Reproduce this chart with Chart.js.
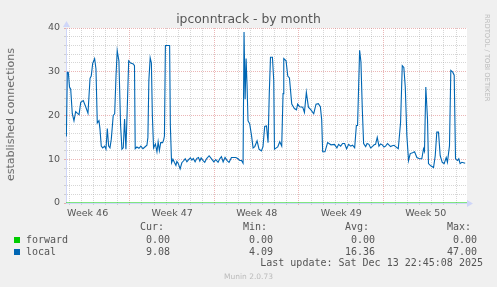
<!DOCTYPE html>
<html>
<head>
<meta charset="utf-8">
<script src="https://cdn.jsdelivr.net/npm/chart.js@4"></script>
<style>
  body { margin: 0; background: #f0f0f0; }
  #wrap { position: relative; width: 497px; height: 287px; overflow: hidden; font-family: 'DejaVu Sans'; color: #555; }
  #wrap div { position: absolute; white-space: nowrap; line-height: 1; }
  #wrap .mono { font: 10px 'DejaVu Sans Mono'; line-height: 10px; }
  canvas { position: absolute; left: 0; top: 0; }
</style>
</head>
<body>
<div id="wrap">
  <canvas id="myChart" width="497" height="287"></canvas>
  <div id="title" style="left:0;width:497px;text-align:center;top:13px;font-size:12.4px;color:#555;">ipconntrack - by month</div>
  <div id="ytitle" style="left:5px;top:48px;height:134px;text-align:center;font-size:11px;color:#666;writing-mode:vertical-rl;transform:rotate(180deg);">established connections</div>
  <div id="brand" style="left:483px;top:14px;font-size:6.8px;color:#bbb;writing-mode:vertical-rl;">RRDTOOL / TOBI OETIKER</div>
  <div id="legend" style="left:0;top:0;width:497px;height:287px;"></div>
  <div class="mono" style="right:14px;top:258px;">Last update: Sat Dec 13 22:45:08 2025</div>
  <div style="left:0;width:497px;text-align:center;top:273px;font-size:7.5px;color:#bbb;">Munin 2.0.73</div>
</div>
<script>
// time in days since the start of week 46
const days = [1.74,1.82,1.90,2.00,2.10,2.23,2.37,2.51,2.66,2.79,2.93,3.14,3.34,3.53,3.70,3.80,3.92,4.08,4.19,4.30,
  4.44,4.52,4.63,4.75,4.91,5.02,5.13,5.24,5.35,5.46,5.62,5.74,5.85,5.95,6.09,6.23,6.34,6.45,6.56,6.67,
  6.78,6.90,7.06,7.28,7.38,7.44,7.58,7.75,7.91,8.08,8.24,8.41,8.49,8.57,8.68,8.78,8.86,8.96,9.11,9.24,
  9.34,9.44,9.55,9.71,9.80,9.86,9.94,10.20,10.29,10.35,10.45,10.56,10.68,10.81,10.89,11.01,11.16,11.30,11.43,11.58,
  11.72,11.86,12.01,12.13,12.25,12.40,12.54,12.68,12.79,12.90,13.06,13.20,13.34,13.56,13.76,13.95,14.11,14.30,14.44,14.58,
  14.72,14.88,15.05,15.21,15.41,15.54,15.77,15.96,16.10,16.24,16.37,16.45,16.54,16.62,16.70,16.78,16.92,17.07,17.20,17.34,
  17.53,17.69,17.89,18.02,18.16,18.31,18.44,18.54,18.64,18.80,18.91,18.97,19.12,19.24,19.41,19.57,19.68,19.74,19.93,20.07,
  20.21,20.40,20.62,20.79,20.89,21.06,21.31,21.45,21.61,21.78,21.99,22.22,22.41,22.60,22.77,22.88,22.96,23.15,23.37,23.65,
  23.93,24.14,24.28,24.45,24.61,24.78,24.94,25.11,25.28,25.44,25.61,25.75,25.85,26.02,26.13,26.24,26.35,26.52,26.64,26.79,
  26.93,27.07,27.22,27.34,27.48,27.62,27.76,27.90,28.04,28.17,28.33,28.44,28.58,28.72,28.87,29.00,29.22,29.41,29.55,29.68,
  29.80,29.93,30.07,30.21,30.40,30.57,30.76,30.98,31.17,31.31,31.39,31.50,31.64,31.72,31.91,32.14,32.28,32.41,32.55,32.69,
  32.86,33.02,33.19,33.29,33.46,33.57,33.73,33.85,33.96,34.12,34.23,34.34,34.48,34.62,34.76];
const local = [15.2,29.9,29.9,26.5,26,20.4,18.8,20.9,20.5,20.2,23,23.4,22,20.5,28.5,29,31.9,33,30.7,18.3,
  18.8,17,13,12.6,13,12.3,17,13,12.6,14.6,20,20.4,29,34.8,32.5,17.7,12.3,12.6,19.2,12.3,
  21.5,32.5,32,31.8,31.4,12.4,12.8,12.5,13,12.4,12.8,13.2,15,28,33.2,32,20,12.6,13.5,11.7,
  14,12,13.8,13.8,14.5,15.3,36,36,36,17.7,9.2,10,9.3,8.6,9.5,9,7.8,9.2,9.6,10.1,
  9.4,9.9,10.3,9.8,10.2,9.4,10.2,10.4,9.6,10.3,9.7,9.3,10.1,10.8,10.1,9.4,9.9,9.3,10.1,10.6,
  9.4,10.4,9.7,9.3,10.4,10.4,10.4,10.1,9.7,9.7,9.1,39.1,23.7,33,26.9,18.8,18.1,15.4,12.6,12.9,
  14.2,12.3,11.9,12.9,17.5,17.6,13.8,25,33.3,33.3,28,12.3,12.6,12.8,14,13,25,33,32.5,29,
  28.6,22.6,21.6,21.3,22.6,22,21.9,20.7,25.3,21.9,21.3,20.4,22.6,22.7,22,19,11.7,11.7,13.8,13.3,
  13.4,12.6,13.4,13.0,13.6,13.6,12.4,13.4,13.0,13.2,12.6,17.7,17.7,34.9,32.2,21.6,13.6,12.9,13.6,13.4,
  12.6,12.9,13.3,13.4,15,13,13.5,13.3,12.8,13,13.6,13.3,12.9,13.1,13.2,12.9,12.4,18.4,31.4,31,
  26.5,15.4,9.7,11.3,11.5,11.7,10.4,10.1,10.1,12.4,11.8,26.5,19.2,9,8.5,8.1,10.8,16.2,16.2,10.8,
  9.3,9,10.4,9.3,13.1,30.3,29.9,29.2,10.1,9.7,10.1,9,9.3,9.2,9.08];
const forwardDays = [1.71, 34.91];
const forward = [0, 0];

const weekNames = ['Week 46', 'Week 47', 'Week 48', 'Week 49', 'Week 50'];
const weekStarts = [0, 7, 14, 21, 28];
const yLabels = [0, 10, 20, 30, 40];

const legendNames = ['forward', 'local'];
const legendColors = ['#00cc00', '#0066b3'];
const curValues = ['0.00', '9.08'];
const minValues = ['0.00', '4.09'];
const avgValues = ['0.00', '16.36'];
const maxValues = ['0.00', '47.00'];

// legend table (rrdtool style)
const legend = document.getElementById('legend');
const colEnds = [170, 273, 375, 477];
['Cur:', 'Min:', 'Avg:', 'Max:'].forEach((h, i) => {
    legend.insertAdjacentHTML('beforeend',
        `<div class="mono" style="left:${colEnds[i] - 30}px;top:222px;">${h}</div>`);
});
legendNames.forEach((name, r) => {
    const top = 234.5 + r * 12;
    legend.insertAdjacentHTML('beforeend',
        `<div style="left:14px;top:${top + 2.5}px;width:6px;height:6px;background:${legendColors[r]};"></div>` +
        `<div class="mono" style="left:26px;top:${top}px;">${name}</div>`);
    [curValues, minValues, avgValues, maxValues].forEach((col, i) => {
        legend.insertAdjacentHTML('beforeend',
            `<div class="mono" style="right:${497 - colEnds[i]}px;top:${top}px;">${col[r]}</div>`);
    });
});

const RED = 'rgba(215,110,110,0.5)';
const GRAY = 'rgba(165,165,165,0.45)';
const AXIS = '#cfd6f8';

const munin = {
    id: 'munin',
    beforeDraw(chart) {
        const { ctx, chartArea: a } = chart;
        ctx.save();
        ctx.fillStyle = '#ffffff';
        ctx.fillRect(a.left, a.top, a.right - a.left, a.bottom - a.top);
        ctx.restore();
    },
    afterDraw(chart) {
        const { ctx, chartArea: a } = chart;
        ctx.save();
        ctx.fillStyle = AXIS;
        ctx.beginPath();
        ctx.moveTo(a.left - 3, a.top - 1);
        ctx.lineTo(a.left + 4, a.top - 1);
        ctx.lineTo(a.left + 0.5, a.top - 7);
        ctx.fill();
        ctx.beginPath();
        ctx.moveTo(a.right, a.bottom - 3);
        ctx.lineTo(a.right, a.bottom + 4);
        ctx.lineTo(a.right + 6, a.bottom + 0.5);
        ctx.fill();
        ctx.restore();
    }
};

Chart.defaults.font.family = 'DejaVu Sans';
Chart.defaults.font.size = 9.5;
Chart.defaults.color = '#555';

const ctx = document.getElementById('myChart').getContext('2d');
const myChart = new Chart(ctx, {
    type: 'line',
    data: {
        datasets: [{
            label: 'forward',
            data: forwardDays.map((d, i) => ({ x: d, y: forward[i] })),
            borderColor: '#00cc00',
            borderWidth: 1,
            pointRadius: 0
        }, {
            label: 'local',
            data: days.map((d, i) => ({ x: d, y: local[i] })),
            borderColor: '#0066b3',
            borderWidth: 1.1,
            pointRadius: 0
        }]
    },
    options: {
        responsive: false,
        animation: false,
        layout: { padding: { left: 0, top: 28, right: 30, bottom: 0 } },
        plugins: {
            legend: { display: false },
            tooltip: { enabled: false }
        },
        scales: {
            x: {
                type: 'linear',
                min: 1.71,
                max: 34.91,
                afterFit: scale => { scale.height = 84; },
                afterBuildTicks: scale => {
                    const t = [];
                    for (let d = 2; d <= 34; d++) t.push({ value: d });
                    weekStarts.forEach(w => t.push({ value: w + 3.5 }));
                    t.sort((a, b) => a.value - b.value);
                    scale.ticks = t;
                },
                ticks: {
                    autoSkip: false,
                    maxRotation: 0,
                    padding: 3,
                    callback: value => {
                        const i = weekStarts.indexOf(value - 3.5);
                        return i >= 0 ? weekNames[i] : '';
                    }
                },
                grid: {
                    tickLength: 2,
                    color: c => {
                        const v = c.tick.value;
                        if (v % 1) return 'rgba(0,0,0,0)';
                        return v % 7 === 0 ? RED : GRAY;
                    }
                },
                border: { color: AXIS, dash: [1, 1] }
            },
            y: {
                min: 0,
                max: 40,
                afterFit: scale => { scale.width = 66; },
                afterBuildTicks: scale => {
                    const t = [];
                    for (let v = 0; v <= 40; v += 2) t.push({ value: v });
                    scale.ticks = t;
                },
                ticks: {
                    autoSkip: false,
                    padding: 4,
                    callback: value => yLabels.includes(value) ? String(value) : ''
                },
                grid: {
                    tickLength: 2,
                    color: c => c.tick.value % 10 === 0 ? RED : GRAY
                },
                border: { color: AXIS, dash: [1, 1] }
            }
        }
    },
    plugins: [munin]
});
</script>
</body>
</html>
